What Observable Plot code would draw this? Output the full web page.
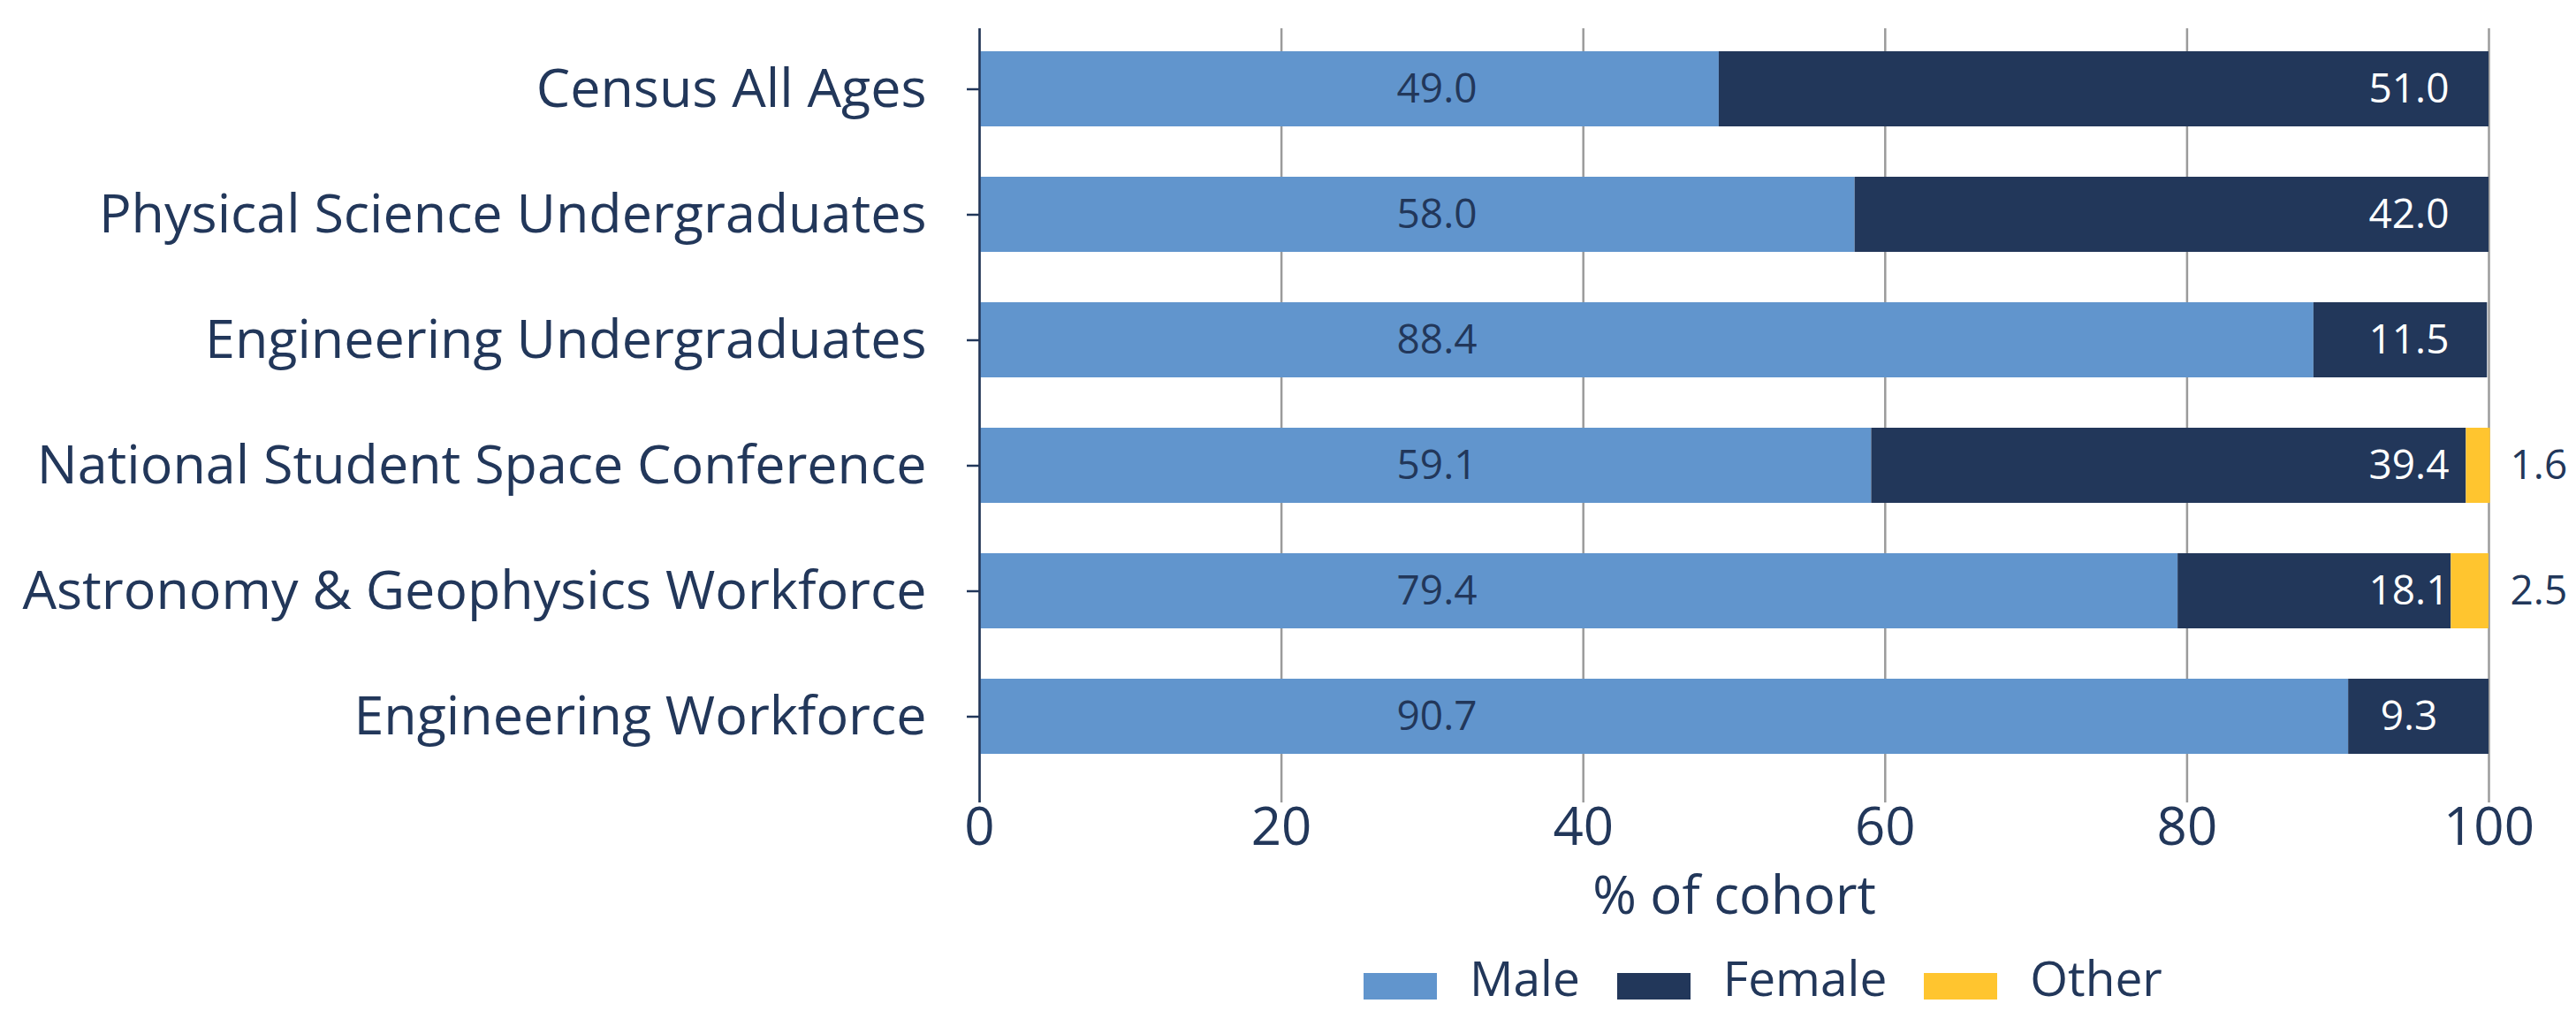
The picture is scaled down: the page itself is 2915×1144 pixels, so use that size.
<!DOCTYPE html>
<html><head><meta charset="utf-8">
<script src="https://cdn.jsdelivr.net/npm/d3@7"></script>
<script src="https://cdn.jsdelivr.net/npm/@observablehq/plot@0.6"></script>
<style>
body{margin:0;background:#fff;font-family:"Open Sans",sans-serif;color:#22375a}
#wrap{position:relative;width:2915px;height:1144px;overflow:hidden}
#legend{position:absolute;left:1543px;bottom:1px;display:flex;align-items:flex-end;font-size:55px;line-height:normal}
.sw{display:inline-block;width:83px;height:30px;margin-right:37px;margin-bottom:12px}
.item{display:flex;align-items:flex-end;margin-right:42px}
</style></head><body><div id="wrap"></div>
<script>
const categories = [
  "Census All Ages",
  "Physical Science Undergraduates",
  "Engineering Undergraduates",
  "National Student Space Conference",
  "Astronomy & Geophysics Workforce",
  "Engineering Workforce"
];
const male   = [49.0, 58.0, 88.4, 59.1, 79.4, 90.7];
const female = [51.0, 42.0, 11.5, 39.4, 18.1, 9.3];
const other  = [0, 0, 0, 1.6, 2.5, 0];
const genders = ["Male", "Female", "Other"];
const colors  = ["#6195cd", "#22375a", "#ffc52f"];
const labelColors = ["#22375a", "#ffffff", "#22375a"];
const xTicks = [0, 20, 40, 60, 80, 100];
const xLabel = "% of cohort";

const navy = "#22375a";
const series = [male, female, other];
const rows = [];
categories.forEach((c, i) => genders.forEach((g, j) => {
  if (series[j][i] > 0) rows.push({category: c, gender: g, value: series[j][i]});
}));

// label anchor positions (in % units) for each series' value labels
const labelAnchor = {Male: 30.3, Female: 94.7, Other: 103.3};

const chart = Plot.plot({
  width: 2915,
  height: 1060,
  marginLeft: 1108,
  marginRight: 99,
  marginTop: 32,
  marginBottom: 152,
  style: {fontFamily: "'Open Sans', sans-serif", color: navy, background: "white", overflow: "visible"},
  x: {domain: [0, 100], ticks: xTicks},
  y: {domain: categories, range: [0, 911], padding: 0.4},
  color: {domain: genders, range: colors},
  marks: [
    Plot.ruleX(xTicks, {stroke: "#9b9b9b", strokeWidth: 2.5}),
    Plot.barX(rows, Plot.stackX({x: "value", y: "category", fill: "gender", order: genders})),
    Plot.ruleX([0], {stroke: navy, strokeWidth: 2.5}),
    Plot.text(rows, {
      x: d => labelAnchor[d.gender],
      y: "category",
      text: d => d.value.toFixed(1),
      fill: d => labelColors[genders.indexOf(d.gender)],
      fontSize: 46,
      textAnchor: "middle"
    }),
    Plot.axisY({tickSize: 14, tickPadding: 46, fontSize: 61, color: navy, strokeWidth: 2.5, label: null}),
    Plot.axisX({ticks: xTicks, tickSize: 0, tickPadding: 5, fontSize: 60, color: navy, label: null}),
    Plot.text([xLabel], {frameAnchor: "bottom", dy: 106, fontSize: 60, lineAnchor: "middle", fill: navy})
  ]
});

const wrap = document.getElementById("wrap");
wrap.appendChild(chart);

const legend = document.createElement("div");
legend.id = "legend";
genders.forEach((g, j) => {
  const item = document.createElement("div");
  item.className = "item";
  const sw = document.createElement("span");
  sw.className = "sw";
  sw.style.background = colors[j];
  const t = document.createElement("span");
  t.textContent = g;
  item.appendChild(sw);
  item.appendChild(t);
  legend.appendChild(item);
});
wrap.appendChild(legend);
</script>
</body></html>
